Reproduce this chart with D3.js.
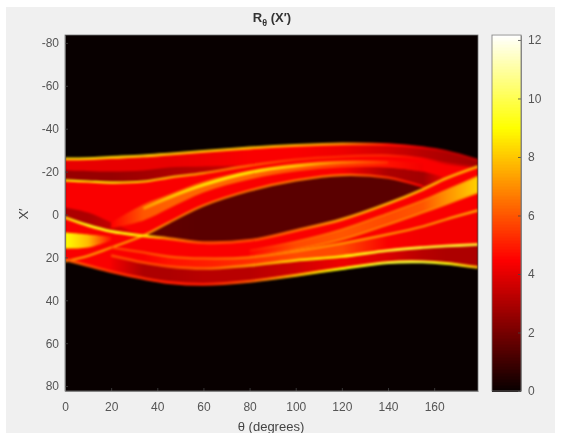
<!DOCTYPE html>
<html>
<head>
<meta charset="utf-8">
<script src="https://cdn.jsdelivr.net/npm/d3@7"></script>
<style>
  html, body { margin: 0; padding: 0; background: #fff; }
  svg { display: block; }
  text { font-family: "Liberation Sans", sans-serif; fill: #444; }
</style>
</head>
<body>
<script>
// curves: X' at each theta knot, null where a curve is not visible
const thetas = [0, 10, 20, 34, 45, 60, 80, 100, 120, 140, 155, 165, 179];
const n = null;

const topEdge = [-25.9, -26.1, -26.6, -27.3, -28.2, -29.4, -31, -32.2, -32.9, -32.6, -31.2, -29.4, -25.2];
const bottomEdge = [21, 23.8, 26.6, 29.8, 31.7, 32.6, 31.2, 28.4, 25.2, 22.4, 22.1, 22.8, 24.7];
const lineB = [-15.9, -15.4, -14.9, -15.4, -17.2, -19.3, -22.8, -25.6, -27, -27.5, -26.1, -23.8, -22.4];
const wedgeTop = [-20.5, -20.3, -20, -20.5, -21.9, -22.4, -22.8, n, n, n, n, n, n];
const lensTop = [21.9, 19.3, 15.4, 9.8, 3.7, -4.2, -11.2, -15.9, -18.4, -17.2, -13.1, -16.8, n];
const lensBottom = [1.4, 5.1, 7.9, 10, 11.2, 13.1, 12.1, 7.5, 2.3, -5.1, -11.7, -16.8, -22.4];
const stripUpper = [n, n, 3.7, -4.7, -9.3, -15.4, -20.5, -23.8, -25.2, -25.2, -23.8, n, n];
const stripLower = [n, n, 6.5, 2.8, -2.8, -10.3, -16.3, -20, -21.9, -21.9, -20, -17, n];
const stripMiddle = [n, n, n, -2.8, -7.9, -13.8, -19.6, -22.6, -24.2, -24.2, n, n, n];
const lineF = [n, n, 15.4, 17.7, 19.6, 20.5, 20, 17.2, 13.5, 9.3, 5.6, 2.3, -1.9];
const lineG = [n, n, 19.1, 22.4, 24.2, 25.2, 23.8, 21.4, 19.6, 16.8, 15.4, 14.7, 14];
const riseUpper = [n, n, n, n, n, n, 16.8, 12.6, 7, -0.5, -6.5, -11.2, -17.7];
const riseLower = [n, n, n, n, n, n, 19.6, 16.3, 11.7, 4.7, -0.9, -4.7, -10.3];
const patchTop = [-3.3, -0.9, 3.7, 10, n, n, n, n, n, n, n, n, n];
const blobTop = [8.4, 9.3, 10.3, n, n, n, n, n, n, n, n, n, n];
const blobBottom = [15.9, 15.4, 12.1, n, n, n, n, n, n, n, n, n, n];

// intensity of each filled band along theta
const baseLevels = [4.4, 4.4, 4.4, 4.4, 4.4, 4.4, 4.4, 4.4, 4.4, 4.4, 4.4, 4.4, 4.4];
const upperLevels = [4.1, 4.1, 4.1, 4.1, 4.1, 4.2, 4.4, 4.4, 4.2, 3.7, 3.2, 3, 2.8];
const wedgeLevels = [2.6, 2.6, 2.6, 2.8, 3, 3.2, 3.8, n, n, n, n, n, n];
const patchLevels = [3, 3, 3.4, 4.2, n, n, n, n, n, n, n, n, n];
const shadeLevels = [n, n, n, n, n, n, n, n, 4.4, 3, 2.8, 4.2, n];
const stripLevels = [n, n, 4.5, 6, 6.2, 6.3, 6.3, 6, 5.5, 4.8, 4.3, n, n];
const lensLevels = [n, n, n, 1.6, 1.6, 1.5, 1.5, 1.5, 1.5, 1.5, 1.6, n, n];
const fgLevels = [n, n, n, 4.4, 4.8, 5, 5.3, 5.8, 5.8, 4.4, 4.3, 4.3, 4.3];
const gEdgeLevels = [n, n, 4.3, 3, 3, 3.2, 3.2, 3.6, 4.2, 3.8, 3.2, 3, 3];
const riseLevels = [n, n, n, n, n, n, 4.6, 5.8, 6, 5.8, 6, 7, 8.2];
const blobLevels = [9, 7.8, 4.8, n, n, n, n, n, n, n, n, n, n];

// intensity of the thin bright lines along theta
const topRidge = [8.2, 8.2, 8.2, 8, 7.8, 7.8, 7.8, 7.5, 7, 4.8, 3.8, 3.2, 3.2];
const bottomRidge = [6.2, 5.8, 5.4, 5.2, 5, 5, 6, 7.8, 9, 9.6, 9.6, 9.2, 7.8];
const bRidge = [8.8, 8.8, 8.8, 8.4, 7.8, 7.2, 6.3, 5.4, 5.2, 5.2, 4.4, 3.8, 3];
const middleRidge = [n, n, n, 7.2, 8, 8.6, 8.6, 8, 6.6, 5.2, n, n, n];
const lensTopRidge = [7.2, 7.2, 7.2, 7.2, 6.8, 6.6, 6.6, 6.6, 6.6, 5.4, 4.4, n, n];
const lensBottomRidge = [8.3, 9.2, 9.2, 8.6, 6.8, 5.8, 5.8, 6.3, 7.2, 7.6, 7.6, 7.6, 7.6];
const fRidge = [n, n, 5.8, 5.8, 6.2, 6.2, 6.6, 7, 7.2, 7.2, 7.2, 7.2, 7.6];
const gRidge = [n, n, 5.8, 5.8, 5.8, 6.2, 7.2, 8.2, 9, 9.6, 9.6, 9.6, 9.6];
const riseUpperRidge = [n, n, n, n, n, n, 5, 6.2, 6.6, 6.6, 6.6, 7, 7.6];
const riseLowerRidge = [n, n, n, n, n, n, 5.4, 6.6, 7, 7, 7, 7, 7.6];

const xTicks = [0, 20, 40, 60, 80, 100, 120, 140, 160];
const yTicks = [-80, -60, -40, -20, 0, 20, 40, 60, 80];
const barTicks = [0, 2, 4, 6, 8, 10, 12];

const width = 563;
const height = 433;
const plotLeft = 65;
const plotRight = 478;
const plotTop = 35;
const plotBottom = 391;

const svg = d3
  .select("body")
  .append("svg")
  .attr("width", width)
  .attr("height", height);

svg.append("rect").attr("width", width).attr("height", height).attr("fill", "#fff");
svg
  .append("rect")
  .attr("x", 6)
  .attr("y", 7)
  .attr("width", 549)
  .attr("height", height - 7)
  .attr("fill", "#f0f0f0");

const x = d3.scaleLinear().domain([0, 179]).range([plotLeft, plotRight]);
const y = d3.scaleLinear().domain([-83.7, 82.3]).range([plotTop, plotBottom]);
const barY = d3.scaleLinear().domain([0, 12.17]).range([plotBottom, plotTop]);
const hot = d3
  .scaleLinear()
  .domain([0, 4.5, 9, 12.17])
  .range(["#080000", "#ff0000", "#ffff00", "#ffffff"]);

const defs = svg.append("defs");
defs
  .append("clipPath")
  .attr("id", "plot-clip")
  .append("rect")
  .attr("x", plotLeft)
  .attr("y", plotTop)
  .attr("width", plotRight - plotLeft)
  .attr("height", plotBottom - plotTop);
defs
  .append("filter")
  .attr("id", "soft")
  .attr("color-interpolation-filters", "sRGB")
  .attr("x", "-5%")
  .attr("y", "-5%")
  .attr("width", "110%")
  .attr("height", "110%")
  .append("feGaussianBlur")
  .attr("stdDeviation", 1);
defs
  .append("filter")
  .attr("id", "soft-text")
  .attr("color-interpolation-filters", "sRGB")
  .append("feGaussianBlur")
  .attr("stdDeviation", 0.35);

let gradientCount = 0;
function gradient(levels) {
  const id = "level-" + gradientCount++;
  defs
    .append("linearGradient")
    .attr("id", id)
    .attr("gradientUnits", "userSpaceOnUse")
    .attr("x1", x(0))
    .attr("x2", x(179))
    .attr("y1", 0)
    .attr("y2", 0)
    .selectAll("stop")
    .data(d3.range(thetas.length).filter((i) => levels[i] !== null))
    .join("stop")
    .attr("offset", (i) => thetas[i] / 179)
    .attr("stop-color", (i) => hot(levels[i]));
  return "url(#" + id + ")";
}

const clipped = svg.append("g").attr("clip-path", "url(#plot-clip)");
clipped
  .append("rect")
  .attr("x", plotLeft)
  .attr("y", plotTop)
  .attr("width", plotRight - plotLeft)
  .attr("height", plotBottom - plotTop)
  .attr("fill", hot(0));
const image = clipped.append("g").attr("filter", "url(#soft)");

const bands = [
  [topEdge, bottomEdge, baseLevels],
  [topEdge, lineB, upperLevels],
  [wedgeTop, lineB, wedgeLevels],
  [patchTop, lensBottom, patchLevels],
  [stripLower, lensTop, shadeLevels],
  [stripUpper, stripLower, stripLevels],
  [lensTop, lensBottom, lensLevels],
  [lineF, lineG, fgLevels],
  [lineG, bottomEdge, gEdgeLevels],
  [riseUpper, riseLower, riseLevels],
  [blobTop, blobBottom, blobLevels],
];

bands.forEach(([upper, lower, levels]) => {
  const area = d3
    .area()
    .defined((i) => upper[i] !== null && lower[i] !== null && levels[i] !== null)
    .x((i) => x(thetas[i]))
    .y0((i) => y(upper[i]))
    .y1((i) => y(lower[i]))
    .curve(d3.curveCatmullRom.alpha(0.5));
  image
    .append("path")
    .attr("d", area(d3.range(thetas.length)))
    .attr("fill", gradient(levels));
});

const ridges = [
  [lineB, bRidge, 2.2],
  [stripMiddle, middleRidge, 3],
  [lensTop, lensTopRidge, 2.2],
  [riseUpper, riseUpperRidge, 1.6],
  [riseLower, riseLowerRidge, 1.6],
  [lineF, fRidge, 2.2],
  [lineG, gRidge, 2.6],
  [lensBottom, lensBottomRidge, 2.8],
  [topEdge, topRidge, 2.8],
  [bottomEdge, bottomRidge, 2.8],
];

ridges.forEach(([curve, levels, w]) => {
  const line = d3
    .line()
    .defined((i) => curve[i] !== null && levels[i] !== null)
    .x((i) => x(thetas[i]))
    .y((i) => y(curve[i]))
    .curve(d3.curveCatmullRom.alpha(0.5));
  image
    .append("path")
    .attr("d", line(d3.range(thetas.length)))
    .attr("fill", "none")
    .attr("stroke", gradient(levels))
    .attr("stroke-width", w);
});

// colorbar
const barLeft = 492;
const barRight = 521;
svg
  .append("g")
  .attr("shape-rendering", "crispEdges")
  .selectAll("rect")
  .data(d3.range(0, 12.17, 0.05))
  .join("rect")
  .attr("x", barLeft)
  .attr("y", (d) => barY(d + 0.05))
  .attr("width", barRight - barLeft)
  .attr("height", barY(0) - barY(0.05) + 1)
  .attr("fill", (d) => hot(d));

// axes and frames
const texts = svg.append("g").attr("filter", "url(#soft-text)");

function styleAxis(g) {
  g.selectAll(".domain").attr("stroke", "#777").attr("stroke-width", 0.8);
  g.selectAll(".tick line").attr("stroke", "#444").attr("stroke-width", 0.8);
  g.selectAll(".tick text")
    .attr("font-size", 12)
    .style("font-family", '"Liberation Sans", sans-serif')
    .style("fill", "#555");
}

texts
  .append("g")
  .attr("transform", `translate(0,${plotBottom})`)
  .call(d3.axisBottom(x).tickValues(xTicks).tickSize(-3).tickSizeOuter(0).tickPadding(11))
  .call(styleAxis);
texts
  .append("g")
  .attr("transform", `translate(${plotLeft},0)`)
  .call(d3.axisLeft(y).tickValues(yTicks).tickSize(-3).tickSizeOuter(0).tickFormat((d) => String(d)).tickPadding(6))
  .call(styleAxis);
texts
  .append("g")
  .attr("transform", `translate(${barRight},0)`)
  .call(d3.axisRight(barY).tickValues(barTicks).tickSize(-3).tickSizeOuter(0).tickPadding(7))
  .call(styleAxis);

[
  [plotLeft, plotTop, plotRight - plotLeft, plotBottom - plotTop],
  [barLeft, plotTop, barRight - barLeft, plotBottom - plotTop],
].forEach(([rx, ry, rw, rh]) => {
  svg
    .append("rect")
    .attr("x", rx)
    .attr("y", ry)
    .attr("width", rw)
    .attr("height", rh)
    .attr("fill", "none")
    .attr("stroke", "#777")
    .attr("stroke-width", 0.8);
});

const title = texts
  .append("text")
  .attr("x", 272)
  .attr("y", 22)
  .attr("text-anchor", "middle")
  .attr("font-size", 13)
  .attr("font-weight", "bold")
  .style("fill", "#333");
title.append("tspan").text("R");
title.append("tspan").attr("dy", 4).attr("font-size", 9).text("θ");
title.append("tspan").attr("dy", -4).text(" (X′)");

texts
  .append("text")
  .attr("transform", "translate(28,214) rotate(-90)")
  .attr("text-anchor", "middle")
  .attr("font-size", 13)
  .text("X′");

texts
  .append("text")
  .attr("x", 271)
  .attr("y", 431)
  .attr("text-anchor", "middle")
  .attr("font-size", 13)
  .text("θ (degrees)");
</script>
</body>
</html>
